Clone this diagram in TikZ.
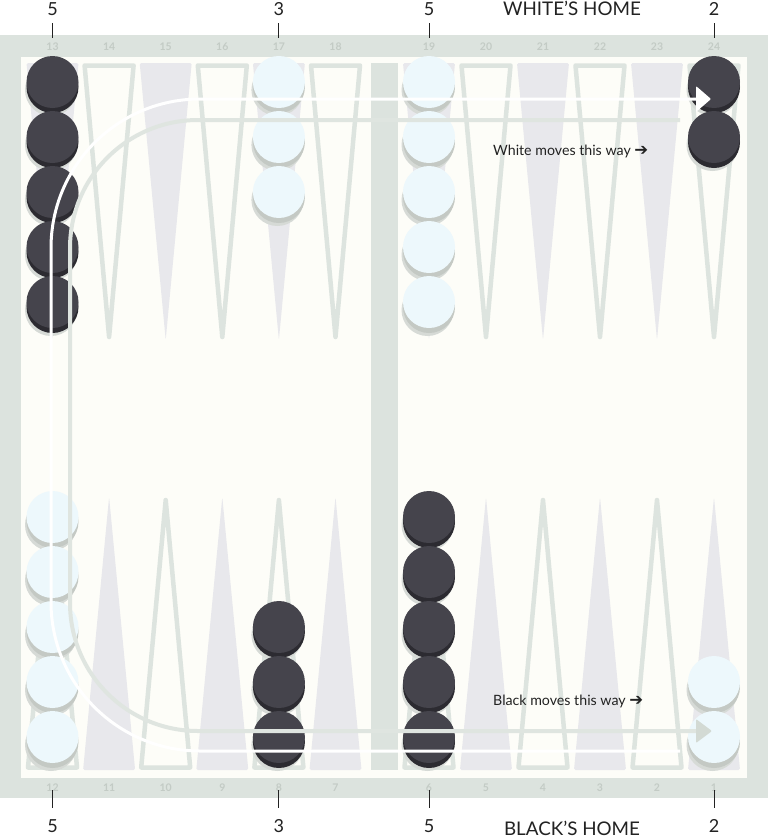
\documentclass[tikz,border=0pt]{standalone}
\usepackage{fontspec}
\setmainfont{Lato}
\newfontfamily\arrowfont{DejaVu Sans}
\definecolor{framec}{HTML}{DCE3DE}
\definecolor{boardc}{HTML}{FDFDF8}
\definecolor{ptfillc}{HTML}{E8E8EC}
\definecolor{ptlinec}{HTML}{DDE4DF}
\definecolor{dfacec}{HTML}{45444C}
\definecolor{dsidec}{HTML}{2C2B31}
\definecolor{lfacec}{HTML}{EDF8FC}
\definecolor{lsidec}{HTML}{C4C9C4}
\definecolor{shadowc}{HTML}{D6DAD6}
\definecolor{greypathc}{HTML}{DFE5E0}
\definecolor{greyheadc}{HTML}{D3DAD4}
\definecolor{numc}{HTML}{C3CBC5}
\definecolor{textc}{HTML}{222222}
\tikzset{
  dface/.style={fill=dfacec}, dside/.style={fill=dsidec},
  lface/.style={fill=lfacec}, lside/.style={fill=lsidec},
  ptfilled/.style={fill=ptfillc, rounded corners=1.5pt},
  ptoutline/.style={draw=ptlinec, fill=boardc, line width=4.5pt, line join=round},
  countlbl/.style={font=\fontsize{18}{20}\selectfont, text=textc, inner sep=0pt, anchor=base},
  homelbl/.style={font=\fontsize{18.8}{20}\selectfont, text=textc, inner sep=0pt, anchor=base},
  ptnum/.style={font=\bfseries\fontsize{10.5}{12}\selectfont, text=numc, inner sep=0pt},
  movelbl/.style={font=\fontsize{14.2}{16}\selectfont, text=textc, inner sep=0pt},
  tickline/.style={draw=textc, line width=1pt},
  whitepath/.style={draw=white, line width=3pt, rounded corners=149pt},
  greypath/.style={draw=greypathc, line width=4pt, rounded corners=128pt},
}
\newcommand\checker[3]{%
  \fill[shadowc] (#1-1.5,#2+8) circle (26);
  \fill[#3side] (#1,#2+5) circle (26);
  \fill[#3face] (#1,#2) circle (26);
}
\newcommand\movearrow{{\arrowfont\bfseries\fontsize{16.5}{16}\selectfont ➔}}
\begin{document}
\begin{tikzpicture}[x=1pt,y=-1pt]
\useasboundingbox (0,0) rectangle (768,838);
\fill[white] (0,0) rectangle (768,838);
% frame and board
\fill[framec] (0,35) rectangle (768,798);
\fill[boardc] (21,57) rectangle (747,778);
\fill[framec] (371,63) rectangle (398,770);
% top points
\foreach \x [count=\i] in {52.5,109.1,165.7,222.3,278.9,335.5,429,486,543,600,657,714} {
  \ifodd\i
    \fill[ptfilled] (\x-26,63) -- (\x+26,63) -- (\x,340) -- cycle;
  \else
    \draw[ptoutline] (\x-24.5,65.5) -- (\x+24.5,65.5) -- (\x,337) -- cycle;
  \fi
}
% bottom points
\foreach \x [count=\i] in {52.5,109.1,165.7,222.3,278.9,335.5,429,486,543,600,657,714} {
  \ifodd\i
    \draw[ptoutline] (\x-24.5,767.5) -- (\x+24.5,767.5) -- (\x,500) -- cycle;
  \else
    \fill[ptfilled] (\x-26,770) -- (\x+26,770) -- (\x,497) -- cycle;
  \fi
}
% checkers
\foreach \y in {82,137,192,247,302} {\checker{52.5}{\y}{d}}
\foreach \y in {82,137,192} {\checker{278.9}{\y}{l}}
\foreach \y in {82,137,192,247,302} {\checker{429}{\y}{l}}
\foreach \y in {82,137} {\checker{714}{\y}{d}}
\foreach \y in {517,572,627,682,737} {\checker{52.5}{\y}{l}}
\foreach \y in {627,682,737} {\checker{278.9}{\y}{d}}
\foreach \y in {517,572,627,682,737} {\checker{429}{\y}{d}}
\foreach \y in {682,737} {\checker{714}{\y}{l}}
% movement paths
\coordinate (wA) at (680,751);
\coordinate (wB) at (51,751);
\coordinate (wC) at (51,99);
\coordinate (wD) at (697,99);
\coordinate (gA) at (680,120);
\coordinate (gB) at (70,120);
\coordinate (gC) at (70,731);
\coordinate (gD) at (697,731);
\draw[greypath] (gA) -- (gB) -- (gC) -- (gD);
\draw[whitepath] (wA) -- (wB) -- (wC) -- (wD);
\fill[white, rounded corners=1pt] (696,86) -- (711,99) -- (696,112) -- cycle;
\fill[greyheadc, rounded corners=1pt] (696,719) -- (712,731) -- (696,743) -- cycle;
% move labels
\node[movelbl, anchor=west] (wmove) at (493,151) {White moves this way \movearrow};
\node[movelbl, anchor=west] (bmove) at (493,701) {Black moves this way \movearrow};
% point numbers
\foreach \x/\n in {52.5/13,109.1/14,165.7/15,222.3/16,278.9/17,335.5/18,429/19,486/20,543/21,600/22,657/23,714/24} {
  \node[ptnum] (pt\n) at (\x,46.5) {\n};
}
\foreach \x/\n in {52.5/12,109.1/11,165.7/10,222.3/9,278.9/8,335.5/7,429/6,486/5,543/4,600/3,657/2,714/1} {
  \node[ptnum] (pt\n) at (\x,788) {\n};
}
% top counts
\node[countlbl] (cT13) at (52.5,15) {5};
\node[countlbl] (cT17) at (278.9,15) {3};
\node[countlbl] (cT19) at (429,15) {5};
\node[countlbl] (cT24) at (714,15) {2};
\node[homelbl] (whome) at (572,15) {WHITE’S HOME};
\foreach \c in {cT13,cT17,cT19,cT24} {
  \draw[tickline] ([yshift=-8pt]\c.south) -- ++(0,15);
}
% bottom counts
\node[countlbl] (cB12) at (52.5,832) {5};
\node[countlbl] (cB8) at (278.9,832) {3};
\node[countlbl] (cB6) at (429,832) {5};
\node[countlbl] (cB1) at (714,832) {2};
\node[homelbl] (bhome) at (572,835) {BLACK’S HOME};
\foreach \c in {cB12,cB8,cB6,cB1} {
  \draw[tickline] ([yshift=11pt]\c.north) -- ++(0,-18);
}
\end{tikzpicture}
\end{document}
